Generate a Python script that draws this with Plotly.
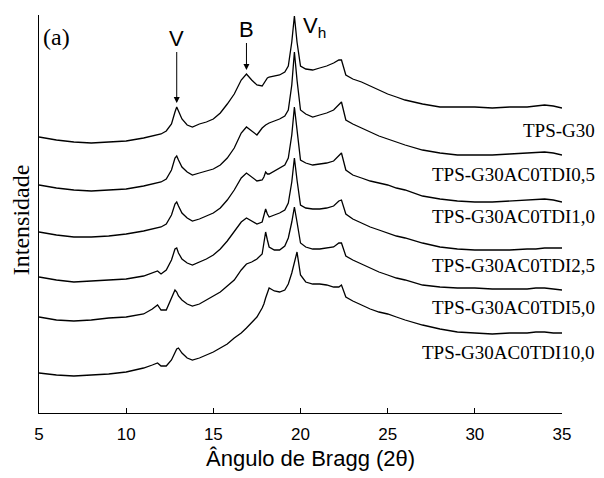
import plotly.graph_objects as go

# Diffraction angle grid (2θ, degrees) shared by every pattern
two_theta = [5, 6, 7, 8, 9, 10, 11, 11.5, 11.8, 12.0, 12.3, 12.6, 12.8, 12.9,
             13.0, 13.2, 13.5, 13.8, 14.2, 14.6, 15.0, 15.4, 15.8, 16.2, 16.6,
             16.9, 17.2, 17.5, 17.8, 17.9, 18.0, 18.1, 18.2, 18.5, 18.8, 19.1,
             19.3, 19.5, 19.65, 19.8, 20.0, 20.3, 20.7, 21.1, 21.5, 21.9, 22.2,
             22.35, 22.6, 23.0, 23.5, 24.0, 24.5, 25.0, 25.5, 26, 27, 28, 29,
             30, 31, 32, 33, 33.5, 34, 34.5, 35]

# Stacked intensities (a.u.), one pattern per formulation
tps_g30 = [276, 273, 271, 270, 271, 272, 275, 277, 278, 279, 282, 289, 301, 306,
           302, 294, 288, 286, 289, 291, 294, 300, 309, 319, 333, 339, 333, 328,
           327, 330, 333, 335, 336, 337, 338, 341, 347, 371, 397, 371, 347, 344,
           343, 345, 347, 350, 353, 353, 338, 334, 331, 327, 323, 319, 316, 313,
           309, 306, 306, 306, 305, 306, 306, 307, 308, 307, 305]
tdi_0_5 = [228, 225, 223, 222, 223, 224, 227, 229, 230, 231, 234, 243, 255, 257,
           253, 246, 241, 238, 240, 242, 244, 248, 255, 265, 280, 286, 282, 278,
           285, 287, 288, 289, 290, 292, 294, 297, 303, 328, 361, 333, 303, 299,
           296, 298, 300, 303, 309, 311, 293, 289, 285, 281, 277, 274, 271, 268,
           263, 260, 258, 258, 258, 259, 260, 261, 261, 260, 258]
tdi_1_0 = [181, 178, 176, 176, 177, 179, 182, 184, 185, 186, 189, 198, 209, 211,
           207, 200, 195, 192, 194, 197, 200, 205, 213, 223, 235, 240, 236, 232,
           233, 236, 241, 239, 239, 242, 245, 248, 255, 278, 306, 281, 253, 250,
           248, 249, 250, 252, 258, 260, 243, 238, 235, 232, 230, 228, 225, 223,
           217, 214, 212, 211, 211, 212, 213, 213, 214, 213, 211]
tdi_2_5 = [136, 133, 131, 132, 133, 134, 137, 140, 142, 139, 143, 153, 164, 165,
           160, 154, 150, 148, 151, 154, 158, 164, 172, 181, 191, 195, 192, 189,
           191, 197, 204, 199, 196, 198, 200, 203, 210, 231, 255, 233, 208, 205,
           204, 204, 205, 207, 212, 213, 199, 194, 190, 186, 183, 180, 177, 175,
           170, 166, 164, 163, 163, 163, 164, 164, 165, 165, 165]
tdi_5_0 = [96, 93, 92, 93, 95, 96, 99, 104, 108, 103, 103, 114, 123, 121,
           117, 113, 109, 107, 109, 113, 117, 121, 127, 133, 143, 149, 151, 154,
           159, 171, 181, 173, 166, 163, 163, 167, 175, 191, 206, 191, 170, 166,
           164, 164, 165, 166, 170, 170, 157, 153, 149, 145, 141, 138, 135, 133,
           128, 126, 125, 125, 124, 124, 124, 125, 125, 124, 123]
tdi_10_0 = [40, 38, 37, 38, 39, 41, 45, 48, 50, 47, 47, 53, 61, 64,
            65, 60, 55, 53, 55, 58, 61, 65, 69, 75, 80, 85, 90, 96,
            105, 109, 115, 121, 125, 122, 121, 123, 129, 140, 151, 161, 138, 131,
            129, 129, 128, 126, 126, 128, 116, 112, 108, 104, 101, 99, 96, 93,
            88, 84, 81, 80, 79, 80, 80, 81, 81, 80, 80]

sample_names = ["TPS-G30", "TPS-G30AC0TDI0,5", "TPS-G30AC0TDI1,0",
                "TPS-G30AC0TDI2,5", "TPS-G30AC0TDI5,0", "TPS-G30AC0TDI10,0"]
patterns = [tps_g30, tdi_0_5, tdi_1_0, tdi_2_5, tdi_5_0, tdi_10_0]
label_levels = [283, 239, 197, 148, 106, 61]

# Reflection markers: (label, 2θ, arrow tip, arrow length in px)
markers = [("V", 12.9, 310, 65), ("B", 16.9, 343, 41)]

SERIF = "Liberation Serif, Times New Roman, serif"
SANS = "Liberation Sans, Arial, sans-serif"

fig = go.Figure()
for name, ys in zip(sample_names, patterns):
    assert len(ys) == len(two_theta)
    fig.add_trace(go.Scatter(x=two_theta, y=ys, mode="lines", name=name,
                             line=dict(color="black", width=1.3),
                             showlegend=False, hoverinfo="skip"))

ann = []
for name, lvl in zip(sample_names, label_levels):
    ann.append(dict(xref="paper", yref="y", x=1.067, y=lvl, text=name,
                    showarrow=False, xanchor="right", yanchor="middle",
                    font=dict(family=SERIF, size=19, color="black")))

for txt, xpos, tip, length in markers:
    ann.append(dict(x=xpos, y=tip, ax=0, ay=-length, text=txt, showarrow=True,
                    arrowhead=2, arrowsize=1.2, arrowwidth=1,
                    arrowcolor="black", standoff=0,
                    font=dict(family=SANS, size=22, color="black")))

ann.append(dict(x=20.0, y=370, text="V<sub>h</sub>", showarrow=False,
                xanchor="left", yanchor="bottom",
                font=dict(family=SANS, size=22, color="black")))
ann.append(dict(xref="paper", x=0.004, y=376, text="(a)", showarrow=False,
                xanchor="left", yanchor="middle",
                font=dict(family=SERIF, size=24, color="black")))
ann.append(dict(xref="paper", x=-0.034, y=193, text="Intensidade",
                showarrow=False, textangle=-90, xanchor="center",
                yanchor="middle", font=dict(family=SERIF, size=24, color="black")))
ann.append(dict(xref="paper", yref="paper", x=0.52, y=-0.115,
                text="Ângulo de Bragg (2θ)", showarrow=False,
                xanchor="center", yanchor="middle",
                font=dict(family=SANS, size=22, color="black")))

fig.update_layout(
    width=604, height=478,
    margin=dict(l=39, r=42, t=15, b=65),
    paper_bgcolor="white", plot_bgcolor="white",
    annotations=ann,
    xaxis=dict(range=[5, 35], tickvals=[5, 10, 15, 20, 25, 30, 35],
               ticks="inside", ticklen=5, tickwidth=1, tickcolor="black",
               showline=True, linecolor="black", linewidth=1.2,
               showgrid=False, zeroline=False, ticklabelstandoff=5,
               tickfont=dict(family=SANS, size=17, color="black")),
    yaxis=dict(range=[0, 398], showticklabels=False, ticks="",
               showline=True, linecolor="black", linewidth=1.2,
               showgrid=False, zeroline=False),
)

fig.write_html("out.html")
